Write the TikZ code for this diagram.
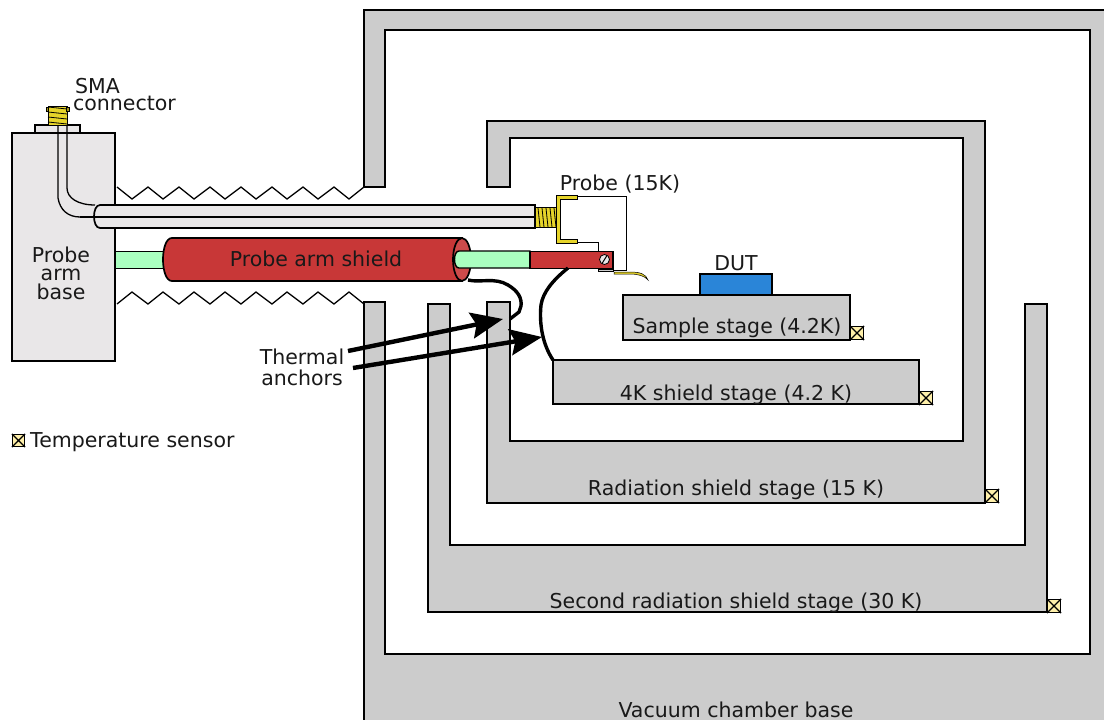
\documentclass[tikz,border=0pt]{standalone}
\usepackage{fontspec}
\setmainfont{DejaVu Sans}
\usepackage{xcolor}
\usetikzlibrary{arrows.meta, positioning, calc}

\definecolor{wallgray}{HTML}{CCCCCC}
\definecolor{basegray}{HTML}{E9E7E8}
\definecolor{shieldred}{HTML}{C83737}
\definecolor{rodgreen}{HTML}{AAFFC0}
\definecolor{brass}{HTML}{E6D42A}
\definecolor{dutblue}{HTML}{2A85D8}
\definecolor{sensorfill}{HTML}{FFF0AA}

\begin{document}
\begin{tikzpicture}[
    x=1pt, y=-1pt,
    wall/.style={draw=black, line width=1.7pt, fill=wallgray},
    part/.style={draw=black, line width=1.7pt, fill=basegray},
    label/.style={font=\fontsize{20.5}{20}\selectfont, inner sep=0pt, align=center, text=black!90},
    wire/.style={draw=black, line width=1.3pt},
    leadwire/.style={draw=black, line width=1pt},
    anchorwire/.style={draw=black, line width=3.4pt},
    pointer/.style={draw=black, line width=4.4pt, -{Stealth[length=32pt, width=26pt, inset=5pt]}}
]
\useasboundingbox (0,0) rectangle (1104,720);

% chamber and shields
\fill[white] (0,0) rectangle (1104,720);
\draw[wall] (364,302) -- (385,302) -- (385,654) -- (1090,654) -- (1090,30) -- (385,30) -- (385,187) -- (364,187) -- (364,10) -- (1110,10) -- (1110,726) -- (364,726) -- cycle;
\draw[wall] (487,187) -- (510,187) -- (510,138) -- (963,138) -- (963,441) -- (510,441) -- (510,302) -- (487,302) -- (487,503) -- (985,503) -- (985,121) -- (487,121) -- cycle;
\draw[wall] (428,304) -- (450,304) -- (450,545) -- (1025,545) -- (1025,304) -- (1047,304) -- (1047,612) -- (428,612) -- cycle;

% stages
\node[wall, minimum width=366pt, minimum height=44pt, inner sep=0pt] (kstage) at (736,382) {};
\node[wall, minimum width=227pt, minimum height=45pt, inner sep=0pt] (samplestage) at (736.5,317.5) {};
\node[draw=black, line width=1.4pt, fill=dutblue, minimum width=72pt, minimum height=21pt, inner sep=0pt] (dut) at (736,284.5) {};

% temperature sensors
\foreach \name/\px/\py/\sz in {sensa/857/333/13, sensb/926/398/13, sensc/992/496/13, sensd/1054/606/13, sense/18.5/440.5/12} {
    \node[draw=black, line width=1.2pt, fill=sensorfill, minimum size=\sz pt, inner sep=0pt] (\name) at (\px,\py) {};
    \draw[line width=1.2pt] (\name.north west) -- (\name.south east) (\name.north east) -- (\name.south west);
}

% bellows
\draw[wire] (117,187) -- (132,199) -- (148,187) -- (163,199) -- (179,187) -- (194,199) -- (210,187) -- (225,199) -- (241,187) -- (256,199) -- (272,187) -- (287,199) -- (303,187) -- (318,199) -- (334,187) -- (349,199) -- (364,187);
\draw[wire] (117,304) -- (132,292) -- (148,304) -- (163,292) -- (179,304) -- (194,292) -- (210,304) -- (225,292) -- (241,304) -- (256,292) -- (272,304) -- (287,292) -- (303,304) -- (318,292) -- (334,304) -- (349,292) -- (364,304);

% probe arm base
\node[draw=black, line width=1.4pt, fill=rodgreen, minimum width=50pt, minimum height=17pt, inner sep=0pt] (rodl) at (139,260) {};
\node[part, minimum width=103pt, minimum height=228pt, inner sep=0pt] (armbase) at (63.5,247) {};
\node[part, minimum width=45pt, minimum height=8pt, inner sep=0pt] (flange) at (57.5,129) {};
\node[draw=black, line width=.8pt, fill=brass, minimum width=19pt, minimum height=19pt, inner sep=0pt] (sma) at (57.5,115.5) {};
\foreach \py in {109,114,119,124} {
    \draw[line width=.8pt] (48,\py-2) -- (67,\py);
}
\draw[line width=.8pt, fill=brass!70!black] (46,107) rectangle (48.5,111) (66.5,107) rectangle (69,111);

% rod and shield
\draw[line width=1.7pt, fill=shieldred] (172,238) -- (462,238) -- (462,281) -- (172,281) .. controls (160,281) and (160,238) .. (172,238) -- cycle;
\draw[line width=1.7pt, fill=shieldred!90!white] (462,259.5) ellipse[x radius=9pt, y radius=21.5pt];
\draw[line width=1.4pt, fill=rodgreen] (530,251) -- (459,251) .. controls (453,251) and (453,268) .. (459,268) -- (530,268) -- cycle;
\node[draw=black, line width=1.4pt, fill=shieldred, minimum width=83pt, minimum height=17pt, inner sep=0pt] (arm) at (571.5,260) {};
\node[draw=black, line width=.8pt, fill=basegray, circle, minimum size=10pt, inner sep=0pt] (screw) at (604.5,259.5) {};
\draw[line width=1pt] ($(screw)+(2.5,-4)$) -- ($(screw)+(-2.5,4)$);

% coax
\draw[part] (100,205) -- (535,205) -- (535,228) -- (100,228) .. controls (92,228) and (92,205) .. (100,205) -- cycle;
\draw[wire] (80,217) -- (535,217);
\draw[wire] (58,125) -- (58,198) .. controls (60,210) and (68,217) .. (80,217);
\draw[wire] (67,125) -- (67,188) .. controls (67,198) and (78,205) .. (95,205);
\node[draw=black, line width=.8pt, fill=brass, minimum width=21pt, minimum height=20pt, inner sep=0pt] (thread) at (545.5,217) {};
\foreach \px in {538,542,546,550,554} {
    \draw[line width=.8pt] (\px,208) -- (\px+2,227);
}

% probe tip
\draw[leadwire] (576,196) -- (626,196) -- (626,270) -- (598,270);
\draw[leadwire] (576,242) -- (598,242) -- (598,251);
\draw[line width=.8pt, fill=wallgray] (598,269) rectangle (613,271);
\draw[line width=.5pt, fill=brass] (577,195) -- (556,195) -- (556,243) -- (577,243) -- (577,239) -- (560,239) -- (560,199) -- (577,199) -- cycle;
\draw[line width=.5pt, fill=brass] (614,272) -- (630,272) .. controls (640,272) and (646,274) .. (648,280) .. controls (645,276) and (638,274) .. (630,274) -- (614,274) -- cycle;

% thermal anchors
\draw[anchorwire] (468,280) .. controls (480,283) and (495,277) .. (508,285) .. controls (518,291) and (522,298) .. (521,306) -- (519,312) -- (510,319);
\draw[anchorwire] (568,268) .. controls (553,280) and (543,292) .. (541,305) .. controls (539,325) and (543,345) .. (553,360);

\node[label] (thermal) at (302,367) {Thermal\\[1pt]anchors};
\coordinate (anchora) at (503,319);
\coordinate (anchorb) at (542,337);
\coordinate (thermala) at (348,351);
\coordinate (thermalb) at (353,368);
\draw[pointer] (thermala) -- (anchora);
\draw[pointer] (thermalb) -- (anchorb);

% labels
\node[label, align=left] (smalabel) at (124.5,95) {\hspace*{2pt}SMA\\[-3pt]connector};
\node[label] (baselabel) at (61,273) {Probe\\[-1.5pt]arm\\[-1.5pt]base};
\node[label] at (316,259) {Probe arm shield};
\node[label] at (620,184) {Probe (15K)};
\node[label] at (736,263) {DUT};
\node[label] at (737,328) {Sample stage (4.2K)};
\node[label] at (736,395) {4K shield stage (4.2 K)};
\node[label] at (736,490) {Radiation shield stage (15 K)};
\node[label] at (736,603) {Second radiation shield stage (30 K)};
\node[label] at (736,709.5) {Vacuum chamber base};
\node[label, anchor=west] at (30,442) {Temperature sensor};
\end{tikzpicture}
\end{document}
